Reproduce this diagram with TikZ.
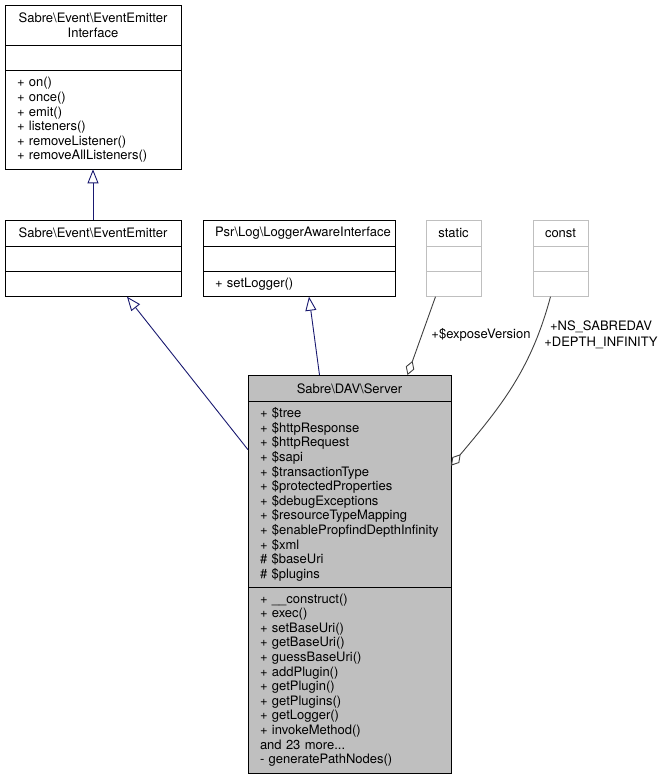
\documentclass[tikz,border=0pt]{standalone}
\usepackage{fontspec}
\setmainfont{TeX Gyre Heros}
\usetikzlibrary{positioning,arrows.meta}

\definecolor{inhblue}{HTML}{191970}
\definecolor{usegray}{HTML}{404040}
\definecolor{boxgray}{HTML}{BFBFBF}
\newcommand\umlfont{\fontsize{13}{14.6}\selectfont}
\newcommand\bs{\textbackslash}

\tikzset{
  sect/.style={draw, line width=0.9pt, inner xsep=12pt, inner ysep=0pt, outer sep=0pt, align=left, font=\umlfont},
  head/.style={sect, align=center},
  inh/.style={draw=inhblue, line width=0.9pt, -{Triangle[open, fill=white, length=14pt, width=11pt]}},
  use/.style={draw=usegray, line width=0.9pt, -{Diamond[open, fill=white, length=15pt, width=9pt]}},
}

\begin{document}
\begin{tikzpicture}[x=1pt, y=-1pt]
    \useasboundingbox (0,0) rectangle (667,780);

    % EventEmitterInterface
    \node[head, text width=152pt, minimum height=40.7pt, anchor=north west] (eei) at (5,5) {Sabre\bs Event\bs EventEmitter\\Interface};
    \node[sect, text width=152pt, minimum height=25pt, below=0pt of eei] (eeiA) {};
    \node[sect, text width=152pt, minimum height=98.6pt, below=0pt of eeiA] (eeiM) {+ on()\\+ once()\\+ emit()\\+ listeners()\\+ removeListener()\\+ removeAllListeners()};

    % EventEmitter
    \node[head, text width=152pt, minimum height=26pt, anchor=north west] (emitter) at (5,220) {Sabre\bs Event\bs EventEmitter};
    \node[sect, text width=152pt, minimum height=25pt, below=0pt of emitter] (emitterA) {};
    \node[sect, text width=152pt, minimum height=25.7pt, below=0pt of emitterA] (emitterM) {};

    % LoggerAwareInterface
    \node[head, text width=168pt, minimum height=26pt, anchor=north west] (logger) at (203,220) {Psr\bs Log\bs LoggerAwareInterface};
    \node[sect, text width=168pt, minimum height=25pt, below=0pt of logger] (loggerA) {};
    \node[sect, text width=168pt, minimum height=25.7pt, below=0pt of loggerA] (loggerM) {+ setLogger()};

    % static and const
    \node[head, draw=boxgray, text width=31pt, minimum height=26pt, anchor=north west] (static) at (426,220) {static};
    \node[sect, draw=boxgray, text width=31pt, minimum height=25pt, below=0pt of static] (staticA) {};
    \node[sect, draw=boxgray, text width=31pt, minimum height=25.7pt, below=0pt of staticA] (staticM) {};
    \node[head, draw=boxgray, text width=31pt, minimum height=26pt, anchor=north west] (const) at (533,220) {const};
    \node[sect, draw=boxgray, text width=31pt, minimum height=25pt, below=0pt of const] (constA) {};
    \node[sect, draw=boxgray, text width=31pt, minimum height=25.7pt, below=0pt of constA] (constM) {};

    % Server
    \node[head, fill=boxgray, text width=179pt, minimum height=26.7pt, anchor=north west] (server) at (248,375) {Sabre\bs DAV\bs Server};
    \node[sect, fill=boxgray, text width=179pt, minimum height=185.6pt, below=0pt of server] (serverA) {+ \$tree\\+ \$httpResponse\\+ \$httpRequest\\+ \$sapi\\+ \$transactionType\\+ \$protectedProperties\\+ \$debugExceptions\\+ \$resourceTypeMapping\\+ \$enablePropfindDepthInfinity\\+ \$xml\\\# \$baseUri\\\# \$plugins};
    \node[sect, fill=boxgray, text width=179pt, minimum height=185.7pt, below=0pt of serverA] (serverM) {+ \_\_construct()\\+ exec()\\+ setBaseUri()\\+ getBaseUri()\\+ guessBaseUri()\\+ addPlugin()\\+ getPlugin()\\+ getPlugins()\\+ getLogger()\\+ invokeMethod()\\and 23 more...\\- generatePathNodes()};

    % inheritance
    \draw[inh] (emitter.north) -- (eeiM.south);
    \draw[inh] ([yshift=-48pt]serverA.north west) -- ([xshift=34pt]emitterM.south);
    \draw[inh] ([xshift=-30pt]server.north) -- ([xshift=10pt]loggerM.south);

    % usage
    \draw[use] ([xshift=-18pt]staticM.south) -- ([xshift=58pt]server.north);
    \draw[use] ([xshift=-10pt]constM.south) to[out=-105, in=50] ([yshift=-64pt]serverA.north east);
    \node[font=\umlfont] (lblver) at (481,335) {+\$exposeVersion};
    \node[font=\umlfont, align=center] (lblconst) at (601,335) {+NS\_SABREDAV\\[1pt]+DEPTH\_INFINITY};
\end{tikzpicture}
\end{document}
